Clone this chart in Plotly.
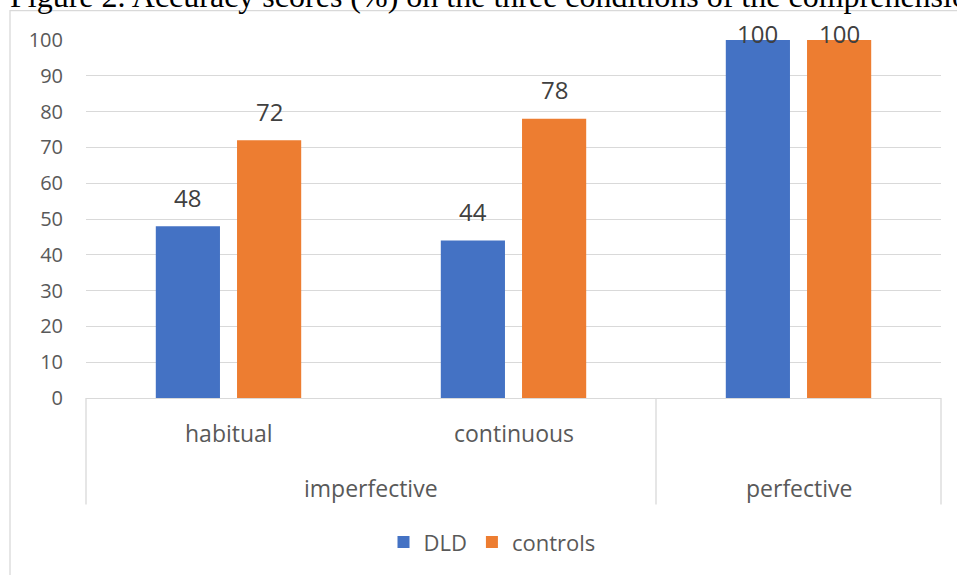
import plotly.graph_objects as go

# Accuracy scores (%) by condition
conditions = ["habitual", "continuous", "perfective"]
aspect_groups = ["imperfective", "imperfective", "perfective"]
group_names = ["imperfective", "perfective"]
dld_scores = [48, 44, 100]
control_scores = [72, 78, 100]
series_names = ["DLD", "controls"]
series_colors = ["#4472C4", "#ED7D31"]
y_ticks = [0, 10, 20, 30, 40, 50, 60, 70, 80, 90, 100]

title_text = "Figure 2. Accuracy scores (%) on the three conditions of the comprehension task"

W, H = 957, 575
M_L, M_R, M_T, M_B = 86, 16, 40, 175
plot_w = W - M_L - M_R
plot_h = H - M_T - M_B
Y_MAX = 100
BARGAP = 0.43
BARGROUPGAP = 0.21

TEXT_GREY = "#595959"
LABEL_GREY = "#404040"
LINE_GREY = "#D9D9D9"
FONT = "Open Sans"


def px_to_paper_y(py):
    """Pixel row (from top of page) -> paper y coordinate."""
    return (H - M_B - py) / plot_h


def px_to_paper_x(px):
    return (px - M_L) / plot_w


fig = go.Figure()
for name, values, color in zip(series_names, [dld_scores, control_scores], series_colors):
    fig.add_trace(go.Bar(
        x=conditions, y=values, name=name,
        marker=dict(color=color, line=dict(width=0)),
        cliponaxis=False,
    ))

annotations = []

# value labels above each bar, kept inside the chart box near the top
px_per_unit = plot_h / Y_MAX
cat_px = plot_w / len(conditions)
slot_px = (1 - BARGAP) * cat_px / len(series_names)
for s, values in enumerate([dld_scores, control_scores]):
    shift = (s - (len(series_names) - 1) / 2) * slot_px
    for cond, v in zip(conditions, values):
        lift = min(v + 8, Y_MAX + 1.9) - v
        annotations.append(dict(
            x=cond, y=v, xref="x", yref="y",
            xshift=shift, yshift=lift * px_per_unit,
            text=str(v), showarrow=False,
            xanchor="center", yanchor="middle",
            font=dict(family=FONT, size=24, color=LABEL_GREY),
        ))

# inner category labels (conditions with a sub-label)
for i, (cond, grp) in enumerate(zip(conditions, aspect_groups)):
    if aspect_groups.count(grp) > 1:
        annotations.append(dict(
            x=i, y=0, xref="x", yref="paper", yshift=-35,
            text=cond, showarrow=False, xanchor="center", yanchor="middle",
            font=dict(family=FONT, size=23, color=TEXT_GREY),
        ))

# outer group labels and divider positions
dividers = [-0.5]
for grp in group_names:
    idx = [i for i, g in enumerate(aspect_groups) if g == grp]
    center = (idx[0] + idx[-1]) / 2
    dividers.append(idx[-1] + 0.5)
    annotations.append(dict(
        x=center, y=0, xref="x", yref="paper", yshift=-90,
        text=grp, showarrow=False, xanchor="center", yanchor="middle",
        font=dict(family=FONT, size=23, color=TEXT_GREY),
    ))

shapes = []
n = len(conditions)
for d in dividers:
    xp = (d + 0.5) / n
    shapes.append(dict(
        type="line", xref="paper", yref="paper",
        x0=xp, x1=xp, y0=0, y1=px_to_paper_y(507),
        line=dict(color=LINE_GREY, width=1.3),
    ))

# chart border box
shapes.append(dict(
    type="rect", xref="paper", yref="paper", layer="below",
    x0=px_to_paper_x(10), x1=px_to_paper_x(1000),
    y0=px_to_paper_y(620), y1=px_to_paper_y(10.5),
    line=dict(color=LINE_GREY, width=1.3), fillcolor="rgba(0,0,0,0)",
))

fig.update_layout(
    width=W, height=H,
    margin=dict(l=M_L, r=M_R, t=M_T, b=M_B, pad=0),
    paper_bgcolor="white", plot_bgcolor="white",
    barmode="group", bargap=BARGAP, bargroupgap=BARGROUPGAP,
    title=dict(
        text=title_text, xref="container", yref="container",
        x=10 / W, xanchor="left", y=1 - 7 / H, yanchor="bottom",
        automargin=False, pad=dict(t=0, b=0, l=0, r=0),
        font=dict(family="Liberation Serif", size=32, color="#000000"),
    ),
    showlegend=True,
    legend=dict(
        orientation="h", x=px_to_paper_x(492), xanchor="center",
        y=px_to_paper_y(545), yanchor="middle",
        font=dict(family=FONT, size=22, color=TEXT_GREY),
        bgcolor="rgba(0,0,0,0)",
    ),
    annotations=annotations,
    shapes=shapes,
    font=dict(family=FONT, color=TEXT_GREY),
)

fig.update_xaxes(
    type="category", categoryorder="array", categoryarray=conditions,
    range=[-0.5, len(conditions) - 0.5],
    showticklabels=False, ticks="", showgrid=False, zeroline=False,
    showline=True, linecolor=LINE_GREY, linewidth=1.3,
)
fig.update_yaxes(
    range=[0, Y_MAX], tickvals=y_ticks, ticks="",
    showgrid=True, gridcolor=LINE_GREY, gridwidth=1.3,
    zeroline=False, showline=False,
    ticklabelstandoff=22,
    tickfont=dict(family=FONT, size=20, color=TEXT_GREY),
)

fig.write_html("out.html")
